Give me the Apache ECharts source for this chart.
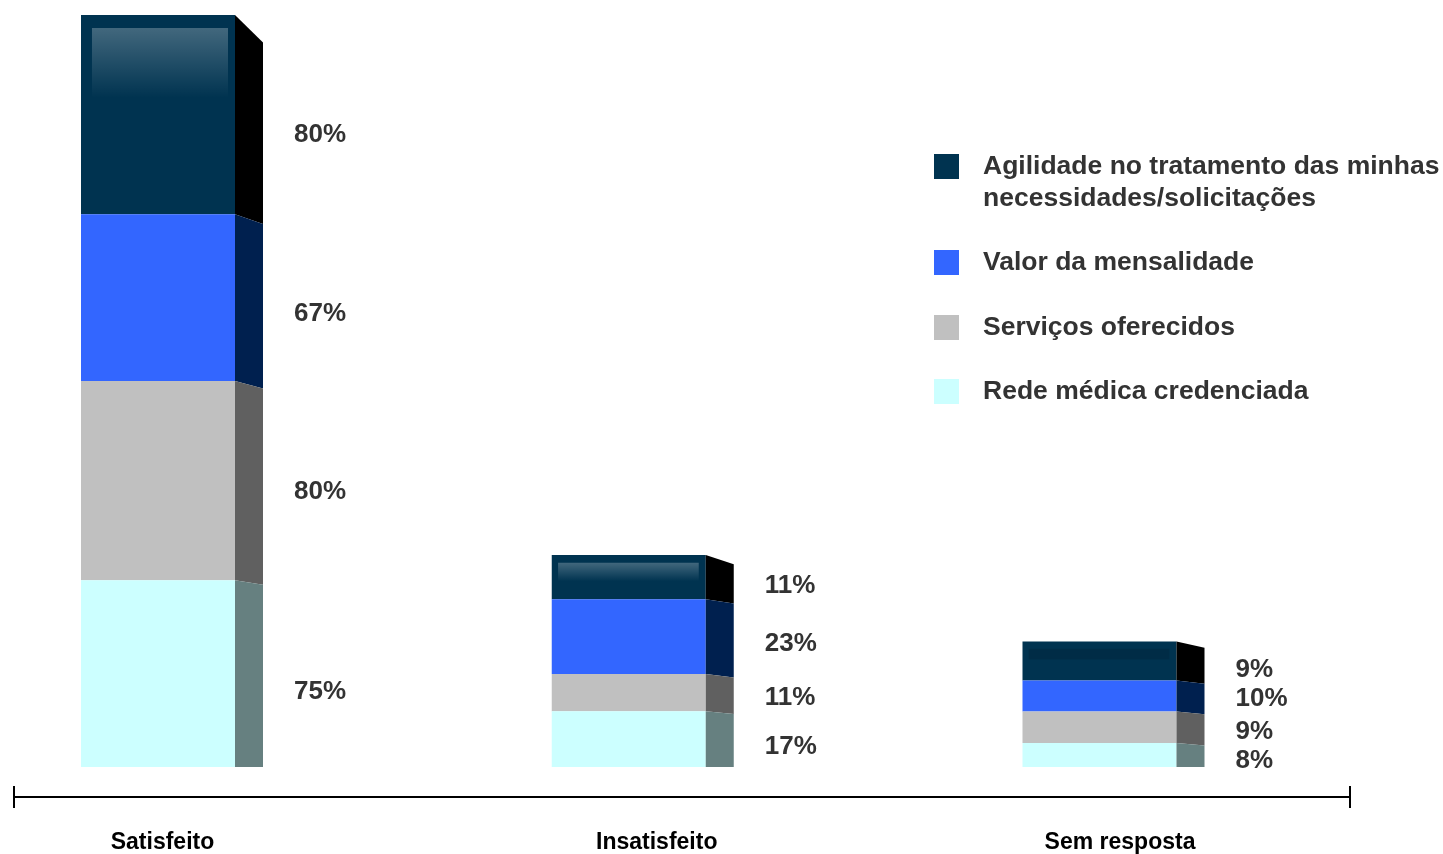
<!DOCTYPE html>
<html>
<head>
<meta charset="utf-8">
<script src="https://cdn.jsdelivr.net/npm/echarts@6/dist/echarts.min.js"></script>
<style>
html,body{margin:0;padding:0;background:#fff;}
#chart{width:1443px;height:854px;}
</style>
</head>
<body>
<div id="chart"></div>
<script>
// ---- data ----
const categories = ['Satisfeito', 'Insatisfeito', 'Sem resposta'];
const seriesNames = ['Rede médica credenciada', 'Serviços oferecidos', 'Valor da mensalidade',
  'Agilidade no tratamento das minhas necessidades/solicitações'];
// printed percentages (labels)
const pctRede = [75, 17, 8];
const pctServicos = [80, 11, 9];
const pctValor = [67, 23, 10];
const pctAgilidade = [80, 11, 9];
// drawn segment heights (same unit as Satisfeito %)
const hRede = [75, 22.4, 9.6];
const hServicos = [80, 14.9, 12.7];
const hValor = [67, 30.1, 12.4];
const hAgilidade = [80, 17.7, 15.7];

const frontColors = ['#CCFFFF', '#C0C0C0', '#3366FF', '#003350'];
const sideColors = ['#668080', '#606060', '#00204F', '#000000'];
const labelOff = [[0.075, 4], [0.037, 3.8], [0.1, 0], [0.07, 6]];
const FONT = '"Liberation Sans", Arial, sans-serif';

const stackH = [hRede, hServicos, hValor, hAgilidade];
const stackP = [pctRede, pctServicos, pctValor, pctAgilidade];

function makeData(s) {
  return categories.map((c, i) => {
    let base = 0;
    for (let k = 0; k < s; k++) base += stackH[k][i];
    return [i, stackH[s][i], base, stackP[s][i]];
  });
}

function makeRender(s) {
  return function (params, api) {
    const i = api.value(0), h = api.value(1), base = api.value(2), pct = api.value(3);
    const p0 = api.coord([i, 0]), pB = api.coord([i, base]), pT = api.coord([i, base + h]);
    const cx = p0[0], y0 = p0[1], yB = pB[1], yT = pT[1];
    const hw = 77, depth = 28;
    const sl = y => { const d = y0 - y; return d <= 0.5 ? 0 : 2 + 0.014 * d; };
    const isTop = s === 3;
    const slT = isTop ? sl(yT) + 0.02 * (y0 - yT) : sl(yT);
    const slB = sl(yB);
    const H = yB - yT;
    const children = [
      {type: 'rect', shape: {x: cx - hw, y: yT, width: 2 * hw, height: H}, style: {fill: frontColors[s]}},
      {type: 'polygon', shape: {points: [[cx + hw, yT], [cx + hw + depth, yT + slT], [cx + hw + depth, yB + slB], [cx + hw, yB]]},
        style: {fill: sideColors[s]}}
    ];
    if (isTop) {
      const inset = 6 + 0.035 * H;
      const hh = H >= 40 ? 0.33 * H + 4 : 0.27 * H;
      const li = 5 + 0.03 * H;
      children.push({
        type: 'rect',
        shape: {x: cx - hw + li, y: yT + inset, width: 2 * hw - li - 7, height: hh},
        style: {
          fill: H >= 40 ? new echarts.graphic.LinearGradient(0, 0, 0, 1, [
            {offset: 0, color: 'rgba(255,255,255,0.26)'},
            {offset: 1, color: 'rgba(255,255,255,0)'}
          ]) : 'rgba(0,0,0,0.12)'
        }
      });
    }
    children.push({
      type: 'text',
      x: cx + hw + depth + 31,
      y: (yT + yB) / 2 + labelOff[s][0] * H + labelOff[s][1],
      style: {text: pct + '%', font: 'bold 26px ' + FONT, fill: '#333333', verticalAlign: 'middle', align: 'left'}
    });
    return {type: 'group', children: children};
  };
}

const series = [3, 2, 1, 0].map(s => ({
  name: seriesNames[s],
  type: 'custom',
  coordinateSystem: 'cartesian2d',
  xAxisIndex: 0,
  yAxisIndex: 0,
  itemStyle: {color: frontColors[s]},
  encode: {x: 0, y: 1},
  renderItem: makeRender(s),
  data: makeData(s)
}));

const legendTops = [118.5, 246.5, 311.5, 375.5];
const legends = [3, 2, 1, 0].map((s, k) => ({
  data: [seriesNames[s]],
  left: 934,
  top: legendTops[k],
  orient: 'vertical',
  padding: 0,
  icon: 'rect',
  itemWidth: 25,
  itemHeight: 25,
  formatter: name => s === 3 ? '\u00a0\n' + name.replace(' necessidades', '\nnecessidades') : name,
  textStyle: {
    fontSize: 26.5, fontWeight: 'bold', color: '#333333', fontFamily: FONT, lineHeight: 32,
    padding: [0, 0, 0, 19]
  }
}));

const option = {
  animation: false,
  backgroundColor: '#ffffff',
  legend: legends,
  grid: [
    {left: 158, right: 343.5, top: 10, bottom: 87},
    {left: 14, right: 93, top: 790, height: 7},
    {left: 162.5, right: 323, top: 790, height: 7}
  ],
  xAxis: [
    {gridIndex: 0, type: 'category', data: categories, boundaryGap: false, show: false},
    {gridIndex: 1, type: 'value', position: 'bottom', min: 0, max: 1, interval: 1,
      axisLine: {show: true, onZero: false, lineStyle: {color: '#000', width: 2}},
      axisTick: {show: true, length: 11, lineStyle: {color: '#000', width: 2}},
      axisLabel: {show: false}, splitLine: {show: false}},
    {gridIndex: 1, type: 'value', position: 'bottom', min: 0, max: 1, interval: 1,
      axisLine: {show: false},
      axisTick: {show: true, inside: true, length: 11, lineStyle: {color: '#000', width: 2}},
      axisLabel: {show: false}, splitLine: {show: false}},
    {gridIndex: 2, type: 'category', data: categories, boundaryGap: false, position: 'bottom',
      axisLine: {show: false}, axisTick: {show: false}, splitLine: {show: false},
      axisLabel: {
        interval: 0, margin: 39, color: '#000', fontSize: 23, fontWeight: 'bold', fontFamily: FONT,
        formatter: (v, i) => i === 1 ? '{m|' + v + '}' : v,
        rich: {m: {padding: [0, 0, 0, 31], fontSize: 23, fontWeight: 'bold', color: '#000', fontFamily: FONT}}
      }}
  ],
  yAxis: [
    {gridIndex: 0, type: 'value', min: 0, max: 304, show: false},
    {gridIndex: 1, type: 'value', show: false},
    {gridIndex: 2, type: 'value', show: false}
  ],
  series: series
};

const chart = echarts.init(document.getElementById('chart'), null, {renderer: 'canvas'});
chart.setOption(option);
</script>
</body>
</html>
